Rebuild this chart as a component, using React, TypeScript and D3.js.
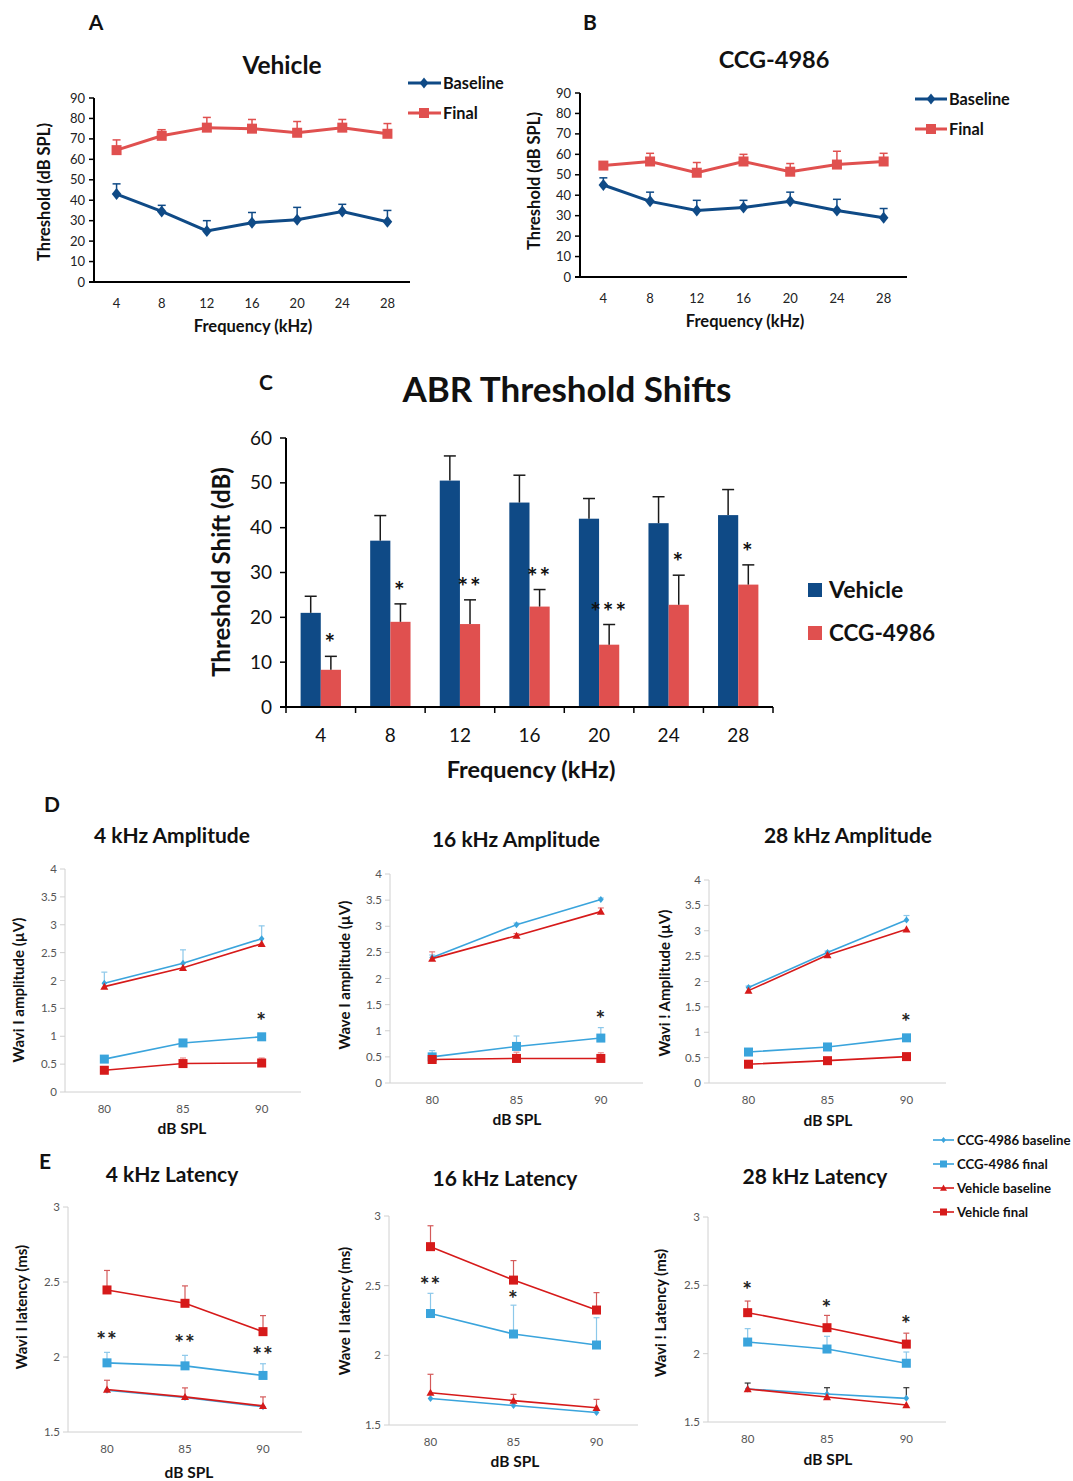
import React from "react";
import * as d3 from "d3";

const FONT = "Lato, 'Open Sans', sans-serif";

// ---------- Panel A / B data ----------
const freqs = ["4", "8", "12", "16", "20", "24", "28"];
const vehBaseline = [43, 34.5, 25, 29, 30.5, 34.5, 29.5];
const vehBaselineErr = [5, 3, 5, 5, 6, 3.5, 5.5];
const vehFinal = [64.5, 71.5, 75.5, 75, 73, 75.5, 72.5];
const vehFinalErr = [5, 3, 5, 4.5, 5.5, 4, 5];
const ccgBaseline = [45, 37, 32.5, 34, 37, 32.5, 29];
const ccgBaselineErr = [3.5, 4.5, 5, 3.5, 4.5, 5.5, 4.5];
const ccgFinal = [54.5, 56.5, 51, 56.5, 51.5, 55, 56.5];
const ccgFinalErr = [1, 4, 5, 3.5, 4, 6.5, 4];
const thresholdTicks = [0, 10, 20, 30, 40, 50, 60, 70, 80, 90];

// ---------- Panel C data ----------
const shiftVehicle = [21, 37.1, 50.5, 45.6, 42, 41, 42.8];
const shiftVehicleErr = [3.7, 5.6, 5.5, 6.1, 4.5, 5.9, 5.7];
const shiftCcg = [8.3, 19, 18.5, 22.4, 13.9, 22.8, 27.3];
const shiftCcgErr = [3, 4, 5.4, 3.8, 4.5, 6.6, 4.4];
const shiftStars = ["*", "*", "**", "**", "***", "*", "*"];
const shiftTicks = [0, 10, 20, 30, 40, 50, 60];

// ---------- Panel D / E data ----------
const levels = ["80", "85", "90"];
const ampTicks = [0, 0.5, 1, 1.5, 2, 2.5, 3, 3.5, 4];
const latTicks = [1.5, 2, 2.5, 3];

// 4 kHz amplitude
const a4CcgB = [1.95, 2.31, 2.75];
const a4CcgBErr = [0.2, 0.24, 0.23];
const a4VehB = [1.89, 2.23, 2.66];
const a4VehBErr = [0, 0, 0];
const a4CcgF = [0.59, 0.88, 0.99];
const a4CcgFErr = [0, 0, 0];
const a4VehF = [0.39, 0.51, 0.52];
const a4VehFErr = [0.05, 0.1, 0.09];
const a4Stars = ["", "", "*"];
const a4StarVals = [0, 0, 1.33];

// 16 kHz amplitude
const a16CcgB = [2.4, 3.03, 3.51];
const a16CcgBErr = [0.05, 0.03, 0.03];
const a16VehB = [2.38, 2.82, 3.28];
const a16VehBErr = [0.13, 0.04, 0.07];
const a16CcgF = [0.5, 0.7, 0.86];
const a16CcgFErr = [0.12, 0.2, 0.2];
const a16VehF = [0.45, 0.47, 0.47];
const a16VehFErr = [0.1, 0.12, 0.11];
const a16Stars = ["", "", "*"];
const a16StarVals = [0, 0, 1.3];

// 28 kHz amplitude
const a28CcgB = [1.88, 2.57, 3.21];
const a28CcgBErr = [0.03, 0.03, 0.09];
const a28VehB = [1.82, 2.52, 3.03];
const a28VehBErr = [0, 0, 0];
const a28CcgF = [0.61, 0.71, 0.89];
const a28CcgFErr = [0, 0, 0];
const a28VehF = [0.37, 0.44, 0.52];
const a28VehFErr = [0, 0, 0];
const a28Stars = ["", "", "*"];
const a28StarVals = [0, 0, 1.28];

// 4 kHz latency
const l4VehF = [2.447, 2.358, 2.169];
const l4VehFErr = [0.13, 0.116, 0.107];
const l4CcgF = [1.961, 1.941, 1.877];
const l4CcgFErr = [0.07, 0.07, 0.078];
const l4VehB = [1.783, 1.734, 1.674];
const l4VehBErr = [0.062, 0.06, 0.06];
const l4CcgB = [1.778, 1.73, 1.668];
const l4CcgBErr = [0, 0, 0];
const l4Stars = ["**", "**", "**"];
const l4StarVals = [2.14, 2.12, 2.04];

// 16 kHz latency
const l16VehF = [2.78, 2.54, 2.325];
const l16VehFErr = [0.15, 0.14, 0.125];
const l16CcgF = [2.3, 2.153, 2.074];
const l16CcgFErr = [0.145, 0.207, 0.196];
const l16VehB = [1.732, 1.675, 1.624];
const l16VehBErr = [0.132, 0.045, 0.06];
const l16CcgB = [1.69, 1.64, 1.59];
const l16CcgBErr = [0, 0, 0];
const l16Stars = ["**", "*", ""];
const l16StarVals = [2.53, 2.43, 0];

// 28 kHz latency
const l28VehF = [2.3, 2.19, 2.07];
const l28VehFErr = [0.085, 0.09, 0.08];
const l28CcgF = [2.085, 2.034, 1.93];
const l28CcgFErr = [0.098, 0.093, 0.082];
const l28VehB = [1.742, 1.683, 1.624];
const l28VehBErr = [0, 0, 0];
const l28CcgB = [1.742, 1.705, 1.673];
const l28CcgBErr = [0.043, 0.046, 0.078];
const l28Stars = ["*", "*", "*"];
const l28StarVals = [2.49, 2.36, 2.24];

// ---------- colors ----------
const NAVY = "#0f4a86";
const SALMON = "#e0504f";
const LIGHTBLUE = "#3aa4dc";
const RED = "#d61a1a";

type MarkerType = "diamond" | "square" | "triangle";
type Series = {
  values: number[];
  errs: number[];
  color: string;
  errColor: string;
  marker: MarkerType;
  msize: number;
};

function Marker({ type, x, y, size, color }: { type: MarkerType; x: number; y: number; size: number; color: string }) {
  if (type === "square") {
    return <rect x={x - size / 2} y={y - size / 2} width={size} height={size} fill={color} />;
  }
  if (type === "diamond") {
    const h = size / 2;
    return <path d={`M${x},${y - h}L${x + h * 0.8},${y}L${x},${y + h}L${x - h * 0.8},${y}Z`} fill={color} />;
  }
  const h = size / 2;
  return <path d={`M${x},${y - h}L${x + h},${y + h * 0.8}L${x - h},${y + h * 0.8}Z`} fill={color} />;
}

type LineProps = {
  cats: string[];
  x0: number;
  x1: number;
  yTop: number;
  yBot: number;
  domain: [number, number];
  ticks: number[];
  series: Series[];
  variant: "dark" | "light";
  lineW: number;
  capW: number;
  stars?: string[];
  starVals?: number[];
};

function LinePanel(p: LineProps) {
  const x = d3.scalePoint<string>().domain(p.cats).range([p.x0, p.x1]).padding(0.5);
  const y = d3.scaleLinear().domain(p.domain).range([p.yBot, p.yTop]);
  const dark = p.variant === "dark";
  const axisColor = dark ? "#000" : "#d0d0d0";
  const axisW = dark ? 2 : 1;
  const labelColor = dark ? "#222" : "#555";
  const fs = dark ? 13 : 11.5;
  const line = d3
    .line<number>()
    .x((_, i) => x(p.cats[i]) as number)
    .y((d) => y(d));
  return (
    <g>
      {/* y axis */}
      <line x1={p.x0} x2={p.x0} y1={y(p.domain[0])} y2={y(p.domain[1])} stroke={axisColor} strokeWidth={axisW} />
      {p.ticks.map((t) => (
        <g key={t}>
          <line x1={p.x0 - 5} x2={p.x0} y1={y(t)} y2={y(t)} stroke={axisColor} strokeWidth={dark ? 1.5 : 1} />
          <text x={p.x0 - (dark ? 9 : 8)} y={y(t)} dy="0.35em" textAnchor="end" fontSize={fs} fill={labelColor} fontFamily={FONT}>
            {String(t)}
          </text>
        </g>
      ))}
      {/* x axis */}
      <line x1={p.x0 - (dark ? 5 : 0)} x2={p.x1} y1={y(p.domain[0])} y2={y(p.domain[0])} stroke={axisColor} strokeWidth={axisW} />
      {p.cats.map((c) => (
        <text key={c} x={x(c)} y={y(p.domain[0]) + (dark ? 21 : 17)} dy="0.35em" textAnchor="middle" fontSize={fs} fill={labelColor} fontFamily={FONT}>
          {c}
        </text>
      ))}
      {/* error bars */}
      {p.series.map((s, si) =>
        s.values.map((v, i) =>
          s.errs[i] > 0 ? (
            <g key={`e${si}-${i}`} stroke={s.errColor} strokeWidth={dark ? 1.5 : 1.2}>
              <line x1={x(p.cats[i])} x2={x(p.cats[i])} y1={y(v)} y2={y(v + s.errs[i])} />
              <line
                x1={(x(p.cats[i]) as number) - p.capW / 2}
                x2={(x(p.cats[i]) as number) + p.capW / 2}
                y1={y(v + s.errs[i])}
                y2={y(v + s.errs[i])}
              />
            </g>
          ) : null
        )
      )}
      {/* lines + markers */}
      {p.series.map((s, si) => (
        <g key={`s${si}`}>
          <path d={line(s.values) || ""} fill="none" stroke={s.color} strokeWidth={p.lineW} />
          {s.values.map((v, i) => (
            <Marker key={i} type={s.marker} x={x(p.cats[i]) as number} y={y(v)} size={s.msize} color={s.color} />
          ))}
        </g>
      ))}
      {/* stars */}
      {p.stars &&
        p.stars.map((st, i) =>
          st ? (
            <text
              key={`st${i}`}
              x={x(p.cats[i])}
              y={y(p.starVals![i])}
              dy="0.5em"
              textAnchor="middle"
              fontSize={23}
              fontWeight="bold"
              fill="#222"
              fontFamily={FONT}
              letterSpacing={1}
            >
              {st}
            </text>
          ) : null
        )}
    </g>
  );
}

function Txt(props: { x: number; y: number; size: number; children: React.ReactNode; anchor?: string; rotate?: boolean; weight?: string; color?: string }) {
  const { x, y, size, anchor = "middle", rotate, weight = "bold", color = "#111" } = props;
  return (
    <text
      x={rotate ? 0 : x}
      y={rotate ? 0 : y}
      transform={rotate ? `translate(${x},${y}) rotate(-90)` : undefined}
      textAnchor={anchor}
      dy="0.35em"
      fontSize={size}
      fontWeight={weight}
      fill={color}
      fontFamily={FONT}
    >
      {props.children}
    </text>
  );
}

function ShiftPanel() {
  const x0 = 286,
    x1 = 773,
    yTop = 438,
    yBot = 707;
  const x = d3.scaleBand<string>().domain(freqs).range([x0, x1]).paddingInner(0.42).paddingOuter(0.21);
  const sub = d3.scaleBand<string>().domain(["veh", "ccg"]).range([0, x.bandwidth()]);
  const y = d3.scaleLinear().domain([0, 60]).range([yBot, yTop]);
  const step = x.step();
  const boundaries = d3.range(freqs.length + 1).map((i) => x0 + i * step);
  const groups = [
    { key: "veh", values: shiftVehicle, errs: shiftVehicleErr, color: NAVY },
    { key: "ccg", values: shiftCcg, errs: shiftCcgErr, color: SALMON },
  ];
  return (
    <g>
      {groups.map((g) =>
        g.values.map((v, i) => {
          const bx = (x(freqs[i]) as number) + (sub(g.key) as number);
          const cx = bx + sub.bandwidth() / 2;
          return (
            <g key={`${g.key}${i}`}>
              <rect x={bx} y={y(v)} width={sub.bandwidth()} height={y(0) - y(v)} fill={g.color} />
              <line x1={cx} x2={cx} y1={y(v)} y2={y(v + g.errs[i])} stroke="#1a1a1a" strokeWidth={1.5} />
              <line x1={cx - 6} x2={cx + 6} y1={y(v + g.errs[i])} y2={y(v + g.errs[i])} stroke="#1a1a1a" strokeWidth={1.5} />
            </g>
          );
        })
      )}
      {shiftStars.map((s, i) => {
        const cx = (x(freqs[i]) as number) + (sub("ccg") as number) + sub.bandwidth() / 2;
        return (
          <text
            key={`st${i}`}
            x={cx}
            y={y(shiftCcg[i] + shiftCcgErr[i]) - 4}
            textAnchor="middle"
            fontSize={25}
            fontWeight="bold"
            fill="#111"
            fontFamily={FONT}
            letterSpacing={2}
          >
            {s}
          </text>
        );
      })}
      <line x1={x0} x2={x0} y1={yBot} y2={yTop} stroke="#000" strokeWidth={2} />
      {shiftTicks.map((t) => (
        <g key={t}>
          <line x1={x0 - 6} x2={x0} y1={y(t)} y2={y(t)} stroke="#000" strokeWidth={1.5} />
          <text x={x0 - 14} y={y(t)} dy="0.35em" textAnchor="end" fontSize={19} fill="#111" fontFamily={FONT}>
            {t}
          </text>
        </g>
      ))}
      <line x1={x0 - 6} x2={x1} y1={yBot} y2={yBot} stroke="#000" strokeWidth={2} />
      {boundaries.map((b, i) => (
        <line key={i} x1={b} x2={b} y1={yBot} y2={yBot + 6} stroke="#000" strokeWidth={1.5} />
      ))}
      {freqs.map((f) => (
        <text key={f} x={(x(f) as number) + x.bandwidth() / 2} y={yBot + 28} dy="0.35em" textAnchor="middle" fontSize={19} fill="#111" fontFamily={FONT}>
          {f}
        </text>
      ))}
    </g>
  );
}

function mk(values: number[], errs: number[], color: string, errColor: string, marker: MarkerType, msize: number): Series {
  return { values, errs, color, errColor, marker, msize };
}

function ampSeries(cb: number[], cbe: number[], vb: number[], vbe: number[], cf: number[], cfe: number[], vf: number[], vfe: number[]): Series[] {
  return [
    mk(cb, cbe, LIGHTBLUE, "#8cc8ea", "diamond", 7),
    mk(vb, vbe, RED, "#e67a7a", "triangle", 8),
    mk(cf, cfe, LIGHTBLUE, "#8cc8ea", "square", 9),
    mk(vf, vfe, RED, "#ec9090", "square", 9),
  ];
}

function latSeries(cb: number[], cbe: number[], vb: number[], vbe: number[], cf: number[], cfe: number[], vf: number[], vfe: number[]): Series[] {
  return [
    mk(cb, cbe, LIGHTBLUE, "#333", "diamond", 7),
    mk(vb, vbe, RED, "#d45a5a", "triangle", 8),
    mk(cf, cfe, LIGHTBLUE, "#8cc8ea", "square", 9),
    mk(vf, vfe, RED, "#d45a5a", "square", 9),
  ];
}

export default function App() {
  const legendItems: { label: string; color: string; marker: MarkerType; size: number }[] = [
    { label: "CCG-4986 baseline", color: LIGHTBLUE, marker: "diamond", size: 6 },
    { label: "CCG-4986 final", color: LIGHTBLUE, marker: "square", size: 7 },
    { label: "Vehicle baseline", color: RED, marker: "triangle", size: 7 },
    { label: "Vehicle final", color: RED, marker: "square", size: 7 },
  ];
  return (
    <svg width={1073} height={1481} style={{ position: "absolute", left: 0, top: 0, background: "#fff" }} fontFamily={FONT}>
      <rect width={1073} height={1481} fill="#fff" />

      {/* ---------------- Panel A ---------------- */}
      <Txt x={96} y={23} size={21}>A</Txt>
      <Txt x={282} y={65} size={24.5}>Vehicle</Txt>
      <LinePanel
        cats={freqs}
        x0={94}
        x1={410}
        yTop={98}
        yBot={282}
        domain={[0, 90]}
        ticks={thresholdTicks}
        variant="dark"
        lineW={3}
        capW={8}
        series={[mk(vehBaseline, vehBaselineErr, NAVY, NAVY, "diamond", 12), mk(vehFinal, vehFinalErr, SALMON, SALMON, "square", 10)]}
      />
      <Txt x={253} y={326} size={16.5}>Frequency (kHz)</Txt>
      <Txt x={44} y={192} size={16.5} rotate>Threshold (dB SPL)</Txt>
      <line x1={408} x2={441} y1={83} y2={83} stroke={NAVY} strokeWidth={3} />
      <Marker type="diamond" x={424} y={83} size={11} color={NAVY} />
      <Txt x={443} y={83} size={16.3} anchor="start">Baseline</Txt>
      <line x1={408} x2={441} y1={113} y2={113} stroke={SALMON} strokeWidth={3} />
      <Marker type="square" x={424} y={113} size={10} color={SALMON} />
      <Txt x={443} y={113} size={16.3} anchor="start">Final</Txt>

      {/* ---------------- Panel B ---------------- */}
      <Txt x={590} y={23} size={21}>B</Txt>
      <Txt x={774} y={60} size={23.5}>CCG-4986</Txt>
      <LinePanel
        cats={freqs}
        x0={580}
        x1={907}
        yTop={93}
        yBot={277}
        domain={[0, 90]}
        ticks={thresholdTicks}
        variant="dark"
        lineW={3}
        capW={8}
        series={[mk(ccgBaseline, ccgBaselineErr, NAVY, NAVY, "diamond", 12), mk(ccgFinal, ccgFinalErr, SALMON, SALMON, "square", 10)]}
      />
      <Txt x={745} y={321} size={16.5}>Frequency (kHz)</Txt>
      <Txt x={534} y={181} size={16.5} rotate>Threshold (dB SPL)</Txt>
      <line x1={915} x2={947} y1={99} y2={99} stroke={NAVY} strokeWidth={3} />
      <Marker type="diamond" x={931} y={99} size={11} color={NAVY} />
      <Txt x={949} y={99} size={16.3} anchor="start">Baseline</Txt>
      <line x1={915} x2={947} y1={129} y2={129} stroke={SALMON} strokeWidth={3} />
      <Marker type="square" x={931} y={129} size={10} color={SALMON} />
      <Txt x={949} y={129} size={16.3} anchor="start">Final</Txt>

      {/* ---------------- Panel C ---------------- */}
      <Txt x={266} y={383} size={21}>C</Txt>
      <Txt x={567} y={390} size={35}>ABR Threshold Shifts</Txt>
      <ShiftPanel />
      <Txt x={531} y={770} size={23.5}>Frequency (kHz)</Txt>
      <Txt x={222} y={572} size={24} rotate>Threshold Shift (dB)</Txt>
      <rect x={808} y={583} width={14} height={14} fill={NAVY} />
      <Txt x={829} y={590} size={23} anchor="start">Vehicle</Txt>
      <rect x={808} y={626} width={14} height={14} fill={SALMON} />
      <Txt x={829} y={633} size={22.5} anchor="start">CCG-4986</Txt>

      {/* ---------------- Panel D ---------------- */}
      <Txt x={52} y={805} size={21}>D</Txt>
      <Txt x={172} y={836} size={21}>4 kHz Amplitude</Txt>
      <Txt x={516} y={840} size={21}>16 kHz Amplitude</Txt>
      <Txt x={848} y={836} size={21}>28 kHz Amplitude</Txt>
      <LinePanel
        cats={levels}
        x0={65}
        x1={301}
        yTop={869}
        yBot={1092}
        domain={[0, 4]}
        ticks={ampTicks}
        variant="light"
        lineW={1.6}
        capW={6}
        stars={a4Stars}
        starVals={a4StarVals}
        series={ampSeries(a4CcgB, a4CcgBErr, a4VehB, a4VehBErr, a4CcgF, a4CcgFErr, a4VehF, a4VehFErr)}
      />
      <LinePanel
        cats={levels}
        x0={390}
        x1={643}
        yTop={874}
        yBot={1083}
        domain={[0, 4]}
        ticks={ampTicks}
        variant="light"
        lineW={1.6}
        capW={6}
        stars={a16Stars}
        starVals={a16StarVals}
        series={ampSeries(a16CcgB, a16CcgBErr, a16VehB, a16VehBErr, a16CcgF, a16CcgFErr, a16VehF, a16VehFErr)}
      />
      <LinePanel
        cats={levels}
        x0={709}
        x1={946}
        yTop={880}
        yBot={1083}
        domain={[0, 4]}
        ticks={ampTicks}
        variant="light"
        lineW={1.6}
        capW={6}
        stars={a28Stars}
        starVals={a28StarVals}
        series={ampSeries(a28CcgB, a28CcgBErr, a28VehB, a28VehBErr, a28CcgF, a28CcgFErr, a28VehF, a28VehFErr)}
      />
      <Txt x={19} y={990} size={15} rotate>Wavi I amplitude (µV)</Txt>
      <Txt x={345} y={975} size={15} rotate>Wave I amplitude (µV)</Txt>
      <Txt x={665} y={983} size={15} rotate>Wavi ! Amplitude (µV)</Txt>
      <Txt x={182} y={1129} size={15.5}>dB SPL</Txt>
      <Txt x={517} y={1120} size={15.5}>dB SPL</Txt>
      <Txt x={828} y={1121} size={15.5}>dB SPL</Txt>

      {/* ---------------- Panel E ---------------- */}
      <Txt x={45} y={1162} size={21}>E</Txt>
      <Txt x={172} y={1175} size={21}>4 kHz Latency</Txt>
      <Txt x={505} y={1179} size={21}>16 kHz Latency</Txt>
      <Txt x={815} y={1177} size={21}>28 kHz Latency</Txt>
      <LinePanel
        cats={levels}
        x0={68}
        x1={302}
        yTop={1207}
        yBot={1432}
        domain={[1.5, 3]}
        ticks={latTicks}
        variant="light"
        lineW={1.6}
        capW={6}
        stars={l4Stars}
        starVals={l4StarVals}
        series={latSeries(l4CcgB, l4CcgBErr, l4VehB, l4VehBErr, l4CcgF, l4CcgFErr, l4VehF, l4VehFErr)}
      />
      <LinePanel
        cats={levels}
        x0={389}
        x1={638}
        yTop={1216}
        yBot={1425}
        domain={[1.5, 3]}
        ticks={latTicks}
        variant="light"
        lineW={1.6}
        capW={6}
        stars={l16Stars}
        starVals={l16StarVals}
        series={latSeries(l16CcgB, l16CcgBErr, l16VehB, l16VehBErr, l16CcgF, l16CcgFErr, l16VehF, l16VehFErr)}
      />
      <LinePanel
        cats={levels}
        x0={708}
        x1={946}
        yTop={1217}
        yBot={1422}
        domain={[1.5, 3]}
        ticks={latTicks}
        variant="light"
        lineW={1.6}
        capW={6}
        stars={l28Stars}
        starVals={l28StarVals}
        series={latSeries(l28CcgB, l28CcgBErr, l28VehB, l28VehBErr, l28CcgF, l28CcgFErr, l28VehF, l28VehFErr)}
      />
      <Txt x={22} y={1307} size={15} rotate>Wavi I latency (ms)</Txt>
      <Txt x={345} y={1311} size={15} rotate>Wave I latency (ms)</Txt>
      <Txt x={661} y={1313} size={15} rotate>Wavi ! Latency (ms)</Txt>
      <Txt x={189} y={1473} size={15.5}>dB SPL</Txt>
      <Txt x={515} y={1462} size={15.5}>dB SPL</Txt>
      <Txt x={828} y={1460} size={15.5}>dB SPL</Txt>

      {/* D/E legend */}
      {legendItems.map((it, i) => {
        const ly = 1140 + i * 24;
        return (
          <g key={it.label}>
            <line x1={933} x2={954} y1={ly} y2={ly} stroke={it.color} strokeWidth={1.6} />
            <Marker type={it.marker} x={943.5} y={ly} size={it.size} color={it.color} />
            <Txt x={957} y={ly} size={13.2} anchor="start">{it.label}</Txt>
          </g>
        );
      })}
    </svg>
  );
}
